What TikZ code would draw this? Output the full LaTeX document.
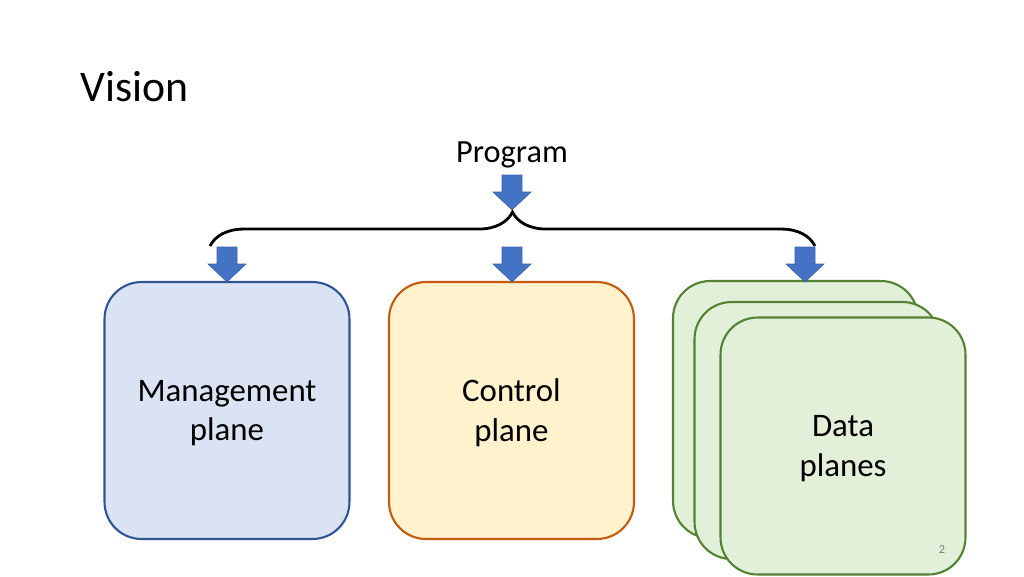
\documentclass[tikz,border=0pt]{standalone}
\usepackage{fontspec}
\setmainfont{Carlito}
\usetikzlibrary{decorations.pathreplacing}

\definecolor{mgmtline}{HTML}{2F5597}
\definecolor{mgmtfill}{HTML}{DAE3F3}
\definecolor{ctrlline}{HTML}{C55A11}
\definecolor{ctrlfill}{HTML}{FFF2CC}
\definecolor{dataline}{HTML}{548235}
\definecolor{datafill}{HTML}{E2F0D9}
\definecolor{arrowblue}{HTML}{4472C4}

\tikzset{
  plane/.style={draw,line width=1.2pt,rounded corners=0.74cm,
    minimum width=4.9cm,minimum height=5.14cm,align=center,text depth=0pt,
    font=\fontsize{18.7}{22.7}\selectfont},
  blockarrow/.pic={
    \path[fill=arrowblue,draw=arrowblue!85!black,line width=0.3pt]
      (-10,-17) -- (10,-17) -- (10,0) -- (19,0) -- (0,18) -- (-19,0) -- (-10,0) -- cycle;
  }
}

\begin{document}
\begin{tikzpicture}[x=0.02cm,y=-0.02cm]
  \useasboundingbox (0,0) rectangle (1024,576);

  \node[anchor=base west,inner sep=0pt,font=\fontsize{24.9}{30}\selectfont] (title) at (80,101) {Vision};
  \node[font=\fontsize{18.4}{22}\selectfont] (prog) at (512,155) {Program};

  % the three planes
  \node[plane,draw=mgmtline,fill=mgmtfill] (mgmt) at (227,410.5) {Management\\plane};
  \node[plane,draw=ctrlline,fill=ctrlfill] (ctrl) at (511.5,410.5) {Control\\plane};
  \node[plane,draw=dataline,fill=datafill] (data1) at (795.5,409.5) {};
  \node[plane,draw=dataline,fill=datafill] (data2) at (817,430.5) {};
  \node[plane,draw=dataline,fill=datafill] (data3) at (843,446) {Data\\planes};

  % arrows and brace
  \pic at (512,192) {blockarrow};
  \coordinate (BL) at (210,246);
  \coordinate (BR) at (815,246);
  \draw[line width=1.6pt,decorate,decoration={brace,amplitude=19.3pt}] (BL) -- (BR);
  \pic at (227,264) {blockarrow};
  \pic at (512,264) {blockarrow};
  \pic at (805,264) {blockarrow};

  \node[font=\fontsize{7}{8}\selectfont,text=gray] (pagenum) at (942,549) {2};
\end{tikzpicture}
\end{document}
